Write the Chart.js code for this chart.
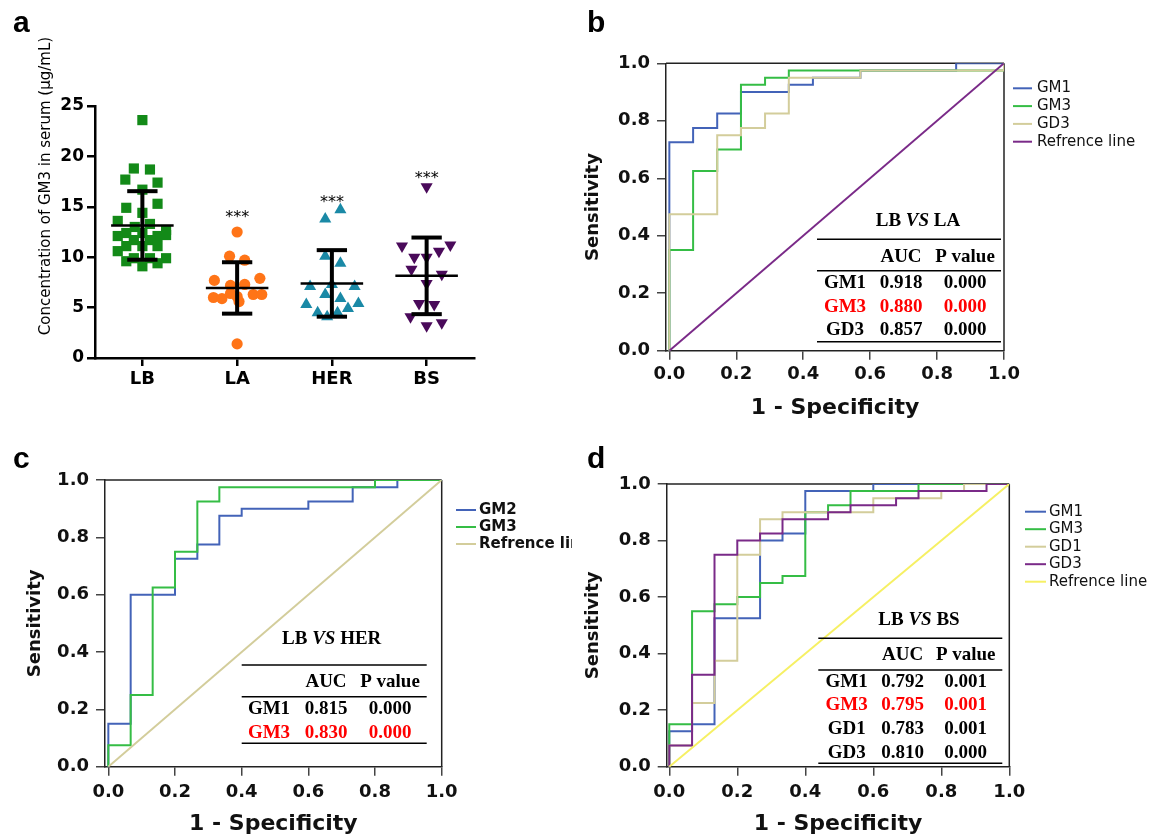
<!DOCTYPE html>
<html>
<head>
<meta charset="utf-8">
<script src="https://cdn.jsdelivr.net/npm/chart.js@4.4.1/dist/chart.umd.min.js"></script>
<style>
body { margin:0; background:#fff; width:1151px; height:837px; position:relative; overflow:hidden; }
canvas { position:absolute; }
.lbl { position:absolute; font: bold 30px "Liberation Sans", Arial, sans-serif; line-height:1; color:#000; }
</style>
</head>
<body>
<canvas id="chartA" width="560" height="440" style="left:0;top:0"></canvas>
<canvas id="chartB" width="591" height="430" style="left:560px;top:0"></canvas>
<canvas id="chartD" width="591" height="397" style="left:560px;top:440px"></canvas>
<canvas id="chartC" width="572" height="397" style="left:0;top:440px"></canvas>
<div class="lbl" style="left:13px;top:7px">a</div>
<div class="lbl" style="left:587px;top:7px">b</div>
<div class="lbl" style="left:13px;top:443px">c</div>
<div class="lbl" style="left:587px;top:443px">d</div>
<script>
// ---- panel a : GM3 serum concentration per group ----
var groups = ['LB', 'LA', 'HER', 'BS'];
var lbVal = [23.6,18.8,18.7,17.7,17.4,16.7,15.3,14.9,14.4,13.6,13.3,13.0,12.7,12.4,12.4,12.1,12.1,12.2,11.7,11.7,11.1,11.1,11.1,10.6,9.9,9.9,9.9,9.6,9.4,9.1];
var lbJit = [0,-0.09,0.08,-0.18,0.16,0,0.16,-0.17,0,-0.26,0.08,-0.08,0.25,-0.17,0,-0.26,0.16,0.25,-0.09,0.08,-0.17,0,0.16,-0.26,-0.09,0.08,0.25,-0.17,0.16,0];
var laVal = [12.5,10.1,9.7,7.7,7.9,7.2,7.3,6.0,5.9,6.4,6.1,6.3,6.3,1.4,5.6];
var laJit = [0,-0.08,0.08,-0.24,0.24,-0.07,0.08,-0.25,-0.16,-0.07,0,0.17,0.26,0,0.02];
var herVal = [14.7,13.8,10.1,9.4,7.1,7.3,7.1,6.3,5.9,5.3,5.4,4.5,4.9,4.1,4.5];
var herJit = [0.09,-0.07,-0.07,0.09,-0.23,0,0.24,-0.07,0.09,-0.27,0.28,-0.15,0.17,-0.05,0.06];
var bsVal = [17.0,11.1,11.2,10.6,10.0,10.0,8.8,8.3,7.4,5.4,5.3,4.1,3.2,3.5];
var bsJit = [0,-0.26,0.25,0.13,-0.13,0,-0.16,0.16,0,-0.08,0.08,-0.17,0,0.16];
var groupMean = [13.15, 6.95, 7.4, 8.15];
var groupSD = [3.4, 2.55, 3.3, 3.8];
var sigY = [null, 13.5, 15.0, 17.4];
var yTicksA = [0, 5, 10, 15, 20, 25];

// ---- ROC panels ----
var rocTicks = [0, 0.2, 0.4, 0.6, 0.8, 1.0];

// b: LB vs LA
var bGM1fpr = [0,0,0.071,0.143,0.214,0.357,0.429,0.571,0.857,1];
var bGM1tpr = [0,0.725,0.775,0.825,0.9,0.925,0.95,0.975,1.0,1.0];
var bGM3fpr = [0,0,0.071,0.143,0.214,0.286,0.357,1];
var bGM3tpr = [0,0.35,0.625,0.7,0.925,0.95,0.975,1.0];
var bGD3fpr = [0,0,0.143,0.214,0.286,0.357,0.571,1];
var bGD3tpr = [0,0.475,0.75,0.775,0.825,0.95,0.975,1.0];
var bNames = ['GM1', 'GM3', 'GD3'];
var bAuc = ['0.918', '0.880', '0.857'];
var bP = ['0.000', '0.000', '0.000'];

// c: LB vs HER
var cGM2fpr = [0,0,0.067,0.2,0.267,0.333,0.4,0.6,0.733,0.867,1];
var cGM2tpr = [0,0.15,0.6,0.725,0.775,0.875,0.9,0.925,0.975,1.0,1.0];
var cGM3fpr = [0,0,0.067,0.133,0.2,0.267,0.333,0.8,1];
var cGM3tpr = [0,0.075,0.25,0.625,0.75,0.925,0.975,1.0,1.0];
var cNames = ['GM1', 'GM3'];
var cAuc = ['0.815', '0.830'];
var cP = ['0.000', '0.000'];

// d: LB vs BS
var dGM1fpr = [0,0,0.067,0.133,0.267,0.333,0.4,0.6,1];
var dGM1tpr = [0,0.125,0.15,0.525,0.8,0.825,0.975,1.0,1.0];
var dGM3fpr = [0,0,0.067,0.133,0.2,0.267,0.333,0.4,0.467,0.533,0.733,1];
var dGM3tpr = [0,0.15,0.55,0.575,0.6,0.65,0.675,0.9,0.925,0.975,1.0,1.0];
var dGD1fpr = [0,0,0.067,0.133,0.2,0.267,0.333,0.6,0.8,0.867,1];
var dGD1tpr = [0,0.075,0.225,0.375,0.75,0.875,0.9,0.95,0.975,1.0,1.0];
var dGD3fpr = [0,0,0.067,0.133,0.2,0.267,0.333,0.467,0.533,0.667,0.733,0.933,1];
var dGD3tpr = [0,0.075,0.325,0.75,0.8,0.825,0.875,0.9,0.925,0.95,0.975,1.0,1.0];
var dNames = ['GM1', 'GM3', 'GD1', 'GD3'];
var dAuc = ['0.792', '0.795', '0.783', '0.810'];
var dP = ['0.001', '0.001', '0.001', '0.000'];

var refFpr = [0, 1];
var refTpr = [0, 1];

var SANS = '"DejaVu Sans", sans-serif';
var SERIF = '"Liberation Serif", "Times New Roman", serif';

function pts(xs, ys) {
    return xs.map(function (v, k) { return { x: v, y: ys[k] }; });
}

function line(ctx, x1, y1, x2, y2) {
    ctx.beginPath(); ctx.moveTo(x1, y1); ctx.lineTo(x2, y2); ctx.stroke();
}

// mean +/- SD bars, significance stars, y title for panel a
var meanSdBars = {
    id: 'meanSdBars',
    afterDatasetsDraw: function (chart) {
        var ctx = chart.ctx, x = chart.scales.x, y = chart.scales.y;
        ctx.save();
        ctx.strokeStyle = '#000';
        groupMean.forEach(function (m, i) {
            var cx = x.getPixelForValue(i);
            var w = x.getPixelForValue(i + 0.33) - cx;
            var c = x.getPixelForValue(i + 0.16) - cx;
            var yM = y.getPixelForValue(m);
            var yHi = y.getPixelForValue(m + groupSD[i]);
            var yLo = y.getPixelForValue(m - groupSD[i]);
            ctx.lineWidth = 2.5;
            line(ctx, cx - w, yM, cx + w, yM);
            ctx.lineWidth = 4;
            line(ctx, cx, yHi, cx, yLo);
            line(ctx, cx - c, yHi, cx + c, yHi);
            line(ctx, cx - c, yLo, cx + c, yLo);
            if (sigY[i] !== null) {
                ctx.fillStyle = '#000';
                ctx.font = '16px ' + SANS;
                ctx.textAlign = 'center';
                ctx.textBaseline = 'alphabetic';
                ctx.fillText('***', cx, y.getPixelForValue(sigY[i]));
            }
        });
        ctx.translate(46, 186);
        ctx.rotate(-Math.PI / 2);
        ctx.font = '15px ' + SANS;
        ctx.textAlign = 'center';
        ctx.textBaseline = 'middle';
        ctx.fillText('Concentration of GM3 in serum (\u03bcg/mL)', 0, 0);
        ctx.restore();
    }
};

new Chart(document.getElementById('chartA'), {
    type: 'scatter',
    data: {
        datasets: [
            { label: 'LB', data: pts(lbJit.map(function (j) { return 0 + j; }), lbVal),
              pointStyle: 'rect', pointRadius: 7.2, backgroundColor: '#138a18', borderColor: '#138a18', borderWidth: 0 },
            { label: 'LA', data: pts(laJit.map(function (j) { return 1 + j; }), laVal),
              pointStyle: 'circle', pointRadius: 5.6, backgroundColor: '#ff7417', borderColor: '#ff7417', borderWidth: 0 },
            { label: 'HER', data: pts(herJit.map(function (j) { return 2 + j; }), herVal),
              pointStyle: 'triangle', pointRadius: 7, backgroundColor: '#1a89a6', borderColor: '#1a89a6', borderWidth: 0 },
            { label: 'BS', data: pts(bsJit.map(function (j) { return 3 + j; }), bsVal),
              pointStyle: 'triangle', rotation: 180, pointRadius: 7, backgroundColor: '#4a0a5a', borderColor: '#4a0a5a', borderWidth: 0 }
        ]
    },
    options: {
        responsive: false,
        animation: false,
        layout: { padding: { left: 0, top: 106, right: 86, bottom: 0 } },
        plugins: { legend: { display: false }, tooltip: { enabled: false } },
        scales: {
            x: {
                type: 'linear', min: -0.5, max: 3.5,
                afterFit: function (s) { s.height = 82; },
                afterBuildTicks: function (s) { s.ticks = groups.map(function (g, i) { return { value: i }; }); },
                ticks: { callback: function (v) { return groups[v]; }, color: '#000', font: { family: SANS, weight: 'bold', size: 18 }, padding: 3, maxRotation: 0, autoSkip: false },
                grid: { drawOnChartArea: false, tickLength: 8, color: '#000', lineWidth: 2.5 },
                border: { display: true, color: '#000', width: 2.5 }
            },
            y: {
                min: 0, max: 25,
                afterFit: function (s) { s.width = 95; },
                afterBuildTicks: function (s) { s.ticks = yTicksA.map(function (v) { return { value: v }; }); },
                ticks: { color: '#000', font: { family: SANS, weight: 'bold', size: 17 }, padding: 3 },
                grid: { drawOnChartArea: false, tickLength: 8, color: '#000', lineWidth: 2.5 },
                border: { display: true, color: '#000', width: 2.5 }
            }
        }
    },
    plugins: [meanSdBars]
});

// frame on top / right of ROC plots
var rocFrame = {
    id: 'rocFrame',
    beforeDatasetsDraw: function (chart) {
        var a = chart.chartArea, ctx = chart.ctx;
        ctx.save();
        ctx.strokeStyle = '#222';
        ctx.lineWidth = 1.5;
        line(ctx, a.left, a.top, a.right, a.top);
        line(ctx, a.right, a.top, a.right, a.bottom);
        ctx.restore();
    }
};

var rocLegend = {
    id: 'rocLegend',
    afterDraw: function (chart, args, o) {
        var ctx = chart.ctx;
        ctx.save();
        ctx.font = o.font;
        ctx.textBaseline = 'middle';
        ctx.textAlign = 'left';
        chart.data.datasets.forEach(function (ds, i) {
            var y = o.y + i * o.step;
            ctx.strokeStyle = ds.borderColor;
            ctx.lineWidth = 2;
            line(ctx, o.x, y, o.x + o.len, y);
            ctx.fillStyle = '#111';
            ctx.fillText(ds.label, o.x + o.len + o.gap, y);
        });
        ctx.restore();
    }
};

var rocTable = {
    id: 'rocTable',
    afterDraw: function (chart, args, o) {
        var ctx = chart.ctx;
        var bold = 'bold 19px ' + SERIF, ital = 'italic bold 19px ' + SERIF;
        ctx.save();
        ctx.textBaseline = 'middle';
        // title, middle word italic
        var parts = [[o.title[0] + ' ', bold], [o.title[1], ital], [' ' + o.title[2], bold]];
        var total = 0;
        parts.forEach(function (p) { ctx.font = p[1]; total += ctx.measureText(p[0]).width; });
        var tx = o.cx - total / 2;
        ctx.fillStyle = '#000';
        ctx.textAlign = 'left';
        parts.forEach(function (p) { ctx.font = p[1]; ctx.fillText(p[0], tx, o.titleY); tx += ctx.measureText(p[0]).width; });
        // rules
        ctx.strokeStyle = '#000';
        ctx.lineWidth = 1.6;
        [o.top, o.headLine, o.bottom].forEach(function (yy) { line(ctx, o.left, yy, o.right, yy); });
        // header and rows
        ctx.font = bold;
        ctx.textAlign = 'center';
        ctx.fillText('AUC', o.cols[1], o.headY);
        ctx.fillText('P value', o.cols[2], o.headY);
        o.names.forEach(function (n, i) {
            var yy = o.row0 + i * o.step;
            ctx.fillStyle = n === 'GM3' ? '#ff0000' : '#000';
            ctx.fillText(n, o.cols[0], yy);
            ctx.fillText(o.auc[i], o.cols[1], yy);
            ctx.fillText(o.p[i], o.cols[2], yy);
        });
        ctx.restore();
    }
};

function rocChart(id, sets, lay) {
    return new Chart(document.getElementById(id), {
        type: 'line',
        data: {
            datasets: sets.map(function (s, i) {
                return {
                    label: s.label,
                    data: pts(s.fpr, s.tpr),
                    borderColor: s.color,
                    borderWidth: s.width || 2,
                    pointRadius: 0,
                    stepped: s.ref ? false : 'before',
                    fill: false,
                    order: sets.length - i
                };
            })
        },
        options: {
            responsive: false,
            animation: false,
            layout: { padding: lay.pad },
            plugins: {
                legend: { display: false },
                tooltip: { enabled: false },
                rocLegend: lay.legend,
                rocTable: lay.table
            },
            scales: {
                x: {
                    type: 'linear', min: lay.xMin, max: 1,
                    afterFit: function (s) { s.height = lay.xh; },
                    afterBuildTicks: function (s) { s.ticks = rocTicks.map(function (v) { return { value: v }; }); },
                    ticks: { callback: function (v) { return v.toFixed(1); }, color: '#111', font: { family: SANS, weight: 'bold', size: 18 }, padding: lay.xPad, maxRotation: 0, autoSkip: false },
                    grid: { drawOnChartArea: false, tickLength: 9, color: '#444', lineWidth: 1.5 },
                    border: { display: true, color: '#222', width: 1.5 },
                    title: { display: true, text: '1 - Specificity', color: '#111', font: { family: SANS, weight: 'bold', size: 22 }, padding: { top: 0, bottom: lay.xtPad } }
                },
                y: {
                    min: 0, max: 1,
                    afterFit: function (s) { s.width = lay.yw; },
                    afterBuildTicks: function (s) { s.ticks = rocTicks.map(function (v) { return { value: v }; }); },
                    ticks: { callback: function (v) { return v.toFixed(1); }, color: '#111', font: { family: SANS, weight: 'bold', size: 18 }, padding: 7 },
                    grid: { drawOnChartArea: false, tickLength: 9, color: '#444', lineWidth: 1.5 },
                    border: { display: true, color: '#222', width: 1.5 },
                    title: { display: true, text: 'Sensitivity', color: '#111', font: { family: SANS, weight: 'bold', size: 18 }, padding: { top: lay.ytPad, bottom: 0 } }
                }
            }
        },
        plugins: [rocFrame, rocLegend, rocTable]
    });
}

var BLUE = '#4363b8', GREEN = '#35bd45', BEIGE = '#d3cd9b', PURPLE = '#7a2a88';

rocChart('chartB', [
    { label: 'GM1', fpr: bGM1fpr, tpr: bGM1tpr, color: BLUE },
    { label: 'GM3', fpr: bGM3fpr, tpr: bGM3tpr, color: GREEN },
    { label: 'GD3', fpr: bGD3fpr, tpr: bGD3tpr, color: BEIGE },
    { label: 'Refrence line', fpr: refFpr, tpr: refTpr, color: PURPLE, ref: true }
], {
    pad: { left: 0, top: 63.3, right: 147, bottom: 0 }, xh: 79.3, yw: 106, xMin: -0.01, xPad: 4, xtPad: 9, ytPad: 23,
    legend: { x: 453, y: 88.3, step: 17.8, len: 19, gap: 5, font: '15px ' + SANS },
    table: { title: ['LB', 'VS', 'LA'], names: bNames, auc: bAuc, p: bP, cx: 358, titleY: 221, top: 239.3, left: 257, right: 441,
             headY: 257, headLine: 270.7, row0: 283.3, step: 23.3, bottom: 341.7, cols: [285, 341, 405] }
});

rocChart('chartC', [
    { label: 'GM2', fpr: cGM2fpr, tpr: cGM2tpr, color: BLUE },
    { label: 'GM3', fpr: cGM3fpr, tpr: cGM3tpr, color: GREEN },
    { label: 'Refrence lin', fpr: refFpr, tpr: refTpr, color: BEIGE, ref: true }
], {
    pad: { left: 0, top: 40, right: 130.3, bottom: 0 }, xh: 70.3, yw: 105, xMin: -0.01, xPad: 6, xtPad: 0, ytPad: 25,
    legend: { x: 456, y: 70, step: 17, len: 20, gap: 3, font: 'bold 15px ' + SANS },
    table: { title: ['LB', 'VS', 'HER'], names: cNames, auc: cAuc, p: cP, cx: 331.7, titleY: 199.3, top: 225, left: 241.7, right: 426.7,
             headY: 241.7, headLine: 256.7, row0: 269.3, step: 24, bottom: 303.3, cols: [269, 326, 390] }
});

rocChart('chartD', [
    { label: 'GM1', fpr: dGM1fpr, tpr: dGM1tpr, color: BLUE },
    { label: 'GM3', fpr: dGM3fpr, tpr: dGM3tpr, color: GREEN },
    { label: 'GD1', fpr: dGD1fpr, tpr: dGD1tpr, color: BEIGE },
    { label: 'GD3', fpr: dGD3fpr, tpr: dGD3tpr, color: PURPLE },
    { label: 'Refrence line', fpr: refFpr, tpr: refTpr, color: '#f6f064', ref: true }
], {
    pad: { left: 0, top: 44, right: 141.7, bottom: 0 }, xh: 70.3, yw: 106.7, xMin: -0.0076, xPad: 6, xtPad: 0, ytPad: 23,
    legend: { x: 465, y: 71.7, step: 17.5, len: 21, gap: 3, font: '15px ' + SANS },
    table: { title: ['LB', 'VS', 'BS'], names: dNames, auc: dAuc, p: dP, cx: 359, titleY: 180, top: 198.3, left: 258.3, right: 442.3,
             headY: 215, headLine: 230, row0: 241.7, step: 23.7, bottom: 323.3, cols: [286.7, 342.7, 405.7] }
});
</script>
</body>
</html>
